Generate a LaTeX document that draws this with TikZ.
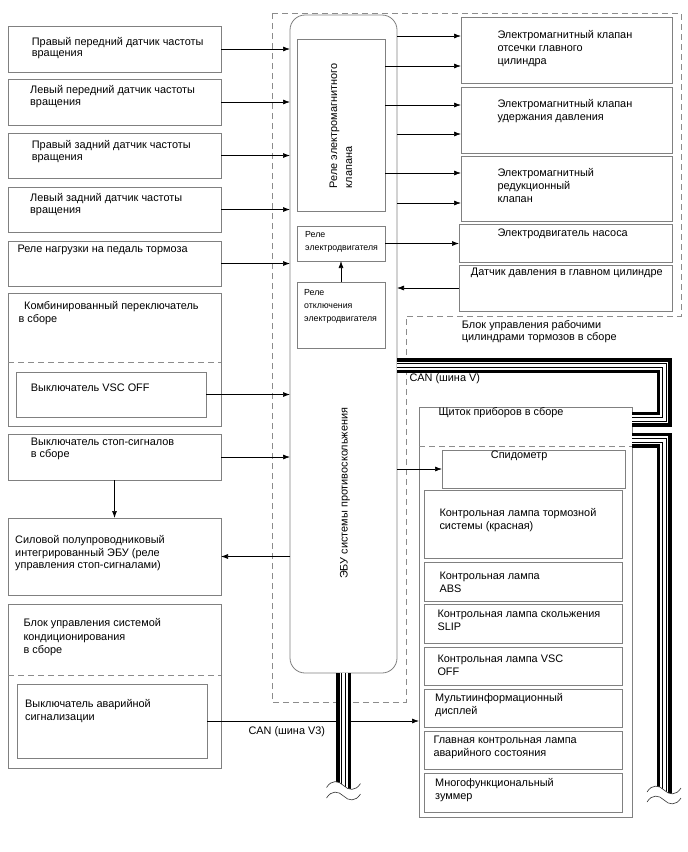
\documentclass[tikz,border=0pt]{standalone}
\usepackage{fontspec}
\setmainfont{Liberation Sans}
\usetikzlibrary{arrows.meta}
\definecolor{boxgray}{RGB}{128,128,128}
\definecolor{dashgray}{RGB}{140,140,140}
\newcommand\ftA{\fontsize{10.9}{13.3}\selectfont}
\newcommand\ftB{\fontsize{10.9}{11.7}\selectfont}
\newcommand\ftC{\fontsize{10.9}{12.7}\selectfont}
\newcommand\ftD{\fontsize{10.9}{15}\selectfont}
\newcommand\ftS{\fontsize{8.8}{12.8}\selectfont}
\newcommand\bx[6][]{\node[box,#1,minimum width={#5-#3},minimum height={#6-#4}] (#2) at ({(#3+#5)/2},{(#4+#6)/2}) {};}
\newcommand\drawbus[1]{\draw[line width=15pt] #1; \draw[white,line width=8pt] #1; \draw[line width=5pt] #1; \draw[white,line width=3pt] #1;}
\newcommand\wv[2]{({#1-17},{#2+2}) .. controls ({#1-12},{#2-6}) and ({#1-5},{#2-5}) .. ({#1},{#2}) .. controls ({#1+5},{#2+5}) and ({#1+12},{#2+6}) .. ({#1+17},{#2-2})}
\newcommand\busend[3]{\fill[white] \wv{#1}{#2} -- ({#1+17},{#2+9}) -- ({#1-17},{#2+9}) -- cycle; \draw[wave] \wv{#1}{#2}; \draw[wave] \wv{#1}{#3};}
\begin{document}
% text nodes: anchor = baseline of the LAST line
\begin{tikzpicture}[x=1pt,y=-1pt,
  box/.style={draw=boxgray,line width=0.8pt,inner sep=0pt,outer sep=0pt},
  dsh/.style={draw=dashgray,line width=0.8pt,dash pattern=on 6pt off 4pt},
  arr/.style={draw=black,line width=0.7pt,-{Latex[length=7pt,width=5pt]}},
  txt/.style={inner sep=0pt,anchor=base west,align=left,font=\ftA,text=black},
  wave/.style={draw=black!80,line width=0.6pt}]
\fill[white] (0,0) rectangle (688,852);
\useasboundingbox (0,0) rectangle (688,852);
% dashed assembly outline
\draw[dsh] (272,13) -- (681,13) -- (681,316) -- (406,316) -- (406,702) -- (272,702) -- cycle;
% left boxes
\bx{s1}{8}{26}{221}{72}
\bx{s2}{8}{79}{221}{125}
\bx{s3}{8}{133}{221}{178}
\bx{s4}{8}{187}{221}{232}
\bx{s5}{8}{241}{221}{286}
\bx{comb}{8}{293}{221}{426}
\bx{vsc}{16}{372}{206}{417}
\bx{stop}{8}{434}{221}{480}
\bx{pwr}{8}{518}{221}{595}
\bx{ac}{8}{604}{221}{768}
\bx{haz}{17}{684}{207}{758}
\draw[dsh] (comb.west |- 0,362) -- (comb.east |- 0,362);
\draw[dsh] (ac.west |- 0,675) -- (ac.east |- 0,675);
% ECU
\bx[rounded corners=15pt]{ecu}{290}{15}{397}{673}
\bx{rk}{297}{39}{385}{211}
\bx{rm}{297}{226}{385}{261}
\bx{ro}{297}{282}{385}{348}
% right boxes
\bx{va}{461}{17}{672}{83}
\bx{vb}{461}{87}{672}{153}
\bx{vc}{461}{156}{672}{221}
\bx{pm}{459}{224}{672}{262}
\bx{ps}{459}{265}{672}{311}
% cluster
\bx{cl}{419}{407}{632}{817}
\draw[dsh] (cl.west |- 0,446) -- (cl.east |- 0,446);
\bx{spd}{442}{450}{625}{488}
\bx{l1}{424}{490}{622}{558}
\bx{l2}{424}{562}{622}{601}
\bx{l3}{424}{604}{622}{643}
\bx{l4}{424}{647}{622}{685}
\bx{l5}{424}{689}{622}{727}
\bx{l6}{424}{731}{622}{769}
\bx{l7}{424}{773}{622}{812}
% texts
\node[txt,font=\ftB] (t1) at (31.7,56.7) {Правый передний датчик частоты\\вращения};
\node[txt,font=\ftB] (t2) at (30,105) {Левый передний датчик частоты\\вращения};
\node[txt,font=\ftB] (t3) at (31.7,160) {Правый задний датчик частоты\\вращения};
\node[txt,font=\ftB] (t4) at (30,213.4) {Левый задний датчик частоты\\вращения};
\node[txt] (t5) at (17.3,252.3) {Реле нагрузки на педаль тормоза};
\node[txt] (t6) at (18.3,322.6) {\hspace*{5.7pt}Комбинированный переключатель\\в сборе};
\node[txt] (t7) at (30.7,391.7) {Выключатель VSC OFF};
\node[txt,font=\ftB] (t8) at (30.7,457.4) {Выключатель стоп-сигналов\\в сборе};
\node[txt,font=\ftC] (t9) at (15,568.7) {Силовой полупроводниковый\\интегрированный ЭБУ (реле\\управления стоп-сигналами)};
\node[txt] (t10) at (23.3,653.3) {Блок управления системой\\кондиционирования\\в сборе};
\node[txt,font=\ftC] (t11) at (25,720) {Выключатель аварийной\\сигнализации};
\node[txt] (t12) at (248.3,734) {CAN (шина V3)};
\node[txt,font=\ftD,rotate=90] (t13) at (352,188.3) {Реле электромагнитного\\клапана};
\node[txt,font=\ftS] (t14) at (305,250.4) {Реле\\электродвигателя};
\node[txt,font=\ftS] (t15) at (304,321.2) {Реле\\отключения\\электродвигателя};
\node[inner sep=0pt,font=\ftA,rotate=90] (t16) at (345,493.3) {ЭБУ системы противоскольжения};
\node[txt] (t17) at (497.3,64.9) {Электромагнитный клапан\\отсечки главного\\цилиндра};
\node[txt] (t18) at (497.3,120.6) {Электромагнитный клапан\\удержания давления};
\node[txt] (t19) at (497.3,202.6) {Электромагнитный\\редукционный\\клапан};
\node[txt] (t20) at (497.3,236.7) {Электродвигатель насоса};
\node[txt] (t21) at (470.7,275.7) {Датчик давления в главном цилиндре};
\node[txt,font=\ftB] (t22) at (461.7,340) {Блок управления рабочими\\цилиндрами тормозов в сборе};
\node[txt] (t23) at (409.3,381.7) {CAN (шина V)};
\node[txt] (t24) at (438.3,415) {Щиток приборов в сборе};
\node[txt] (t25) at (490.7,458.3) {Спидометр};
\node[txt] (t26) at (439.3,529.3) {Контрольная лампа тормозной\\системы (красная)};
\node[txt] (t27) at (439.3,592.6) {Контрольная лампа\\ABS};
\node[txt,font=\ftC] (t28) at (437.3,630.4) {Контрольная лампа скольжения\\SLIP};
\node[txt] (t29) at (437.3,675.6) {Контрольная лампа VSC\\OFF};
\node[txt,font=\ftC] (t30) at (435,714.4) {Мультиинформационный\\дисплей};
\node[txt,font=\ftC] (t31) at (433.3,756) {Главная контрольная лампа\\аварийного состояния};
\node[txt] (t32) at (435,799.3) {Многофункциональный\\зуммер};
% arrows left
\foreach \n in {s1,s2,s3,s4,s5,vsc,stop} {\draw[arr] (\n.east) -- (\n.east -| ecu.west);}
\draw[arr] (pwr.east -| ecu.west) -- (pwr.east);
\draw[arr] (stop.south) -- (pwr.north);
\draw[arr] (ro.north) -- (rm.south);
% arrows right
\draw[arr] (ecu.east |- 0,36) -- (va.west |- 0,36);
\draw[arr] (rk.east |- 0,66) -- (va.west |- 0,66);
\draw[arr] (rk.east |- 0,105) -- (vb.west |- 0,105);
\draw[arr] (ecu.east |- 0,134) -- (vb.west |- 0,134);
\draw[arr] (rk.east |- 0,173) -- (vc.west |- 0,173);
\draw[arr] (ecu.east |- 0,203) -- (vc.west |- 0,203);
\draw[arr] (rm.east) -- (rm.east -| pm.west);
\draw[arr] (ps.west) -- (ps.west -| ecu.east);
\draw[arr] (spd.west -| ecu.east) -- (spd.west);
\draw[arr] (haz.east) -- (haz.east -| cl.west);
% CAN buses
\drawbus{(ecu.east |- 0,365.5) -- (664,365.5) -- (664,419) -- (cl.east |- 0,419)}
\drawbus{(cl.east |- 0,440) -- (664,440) -- (664,797)}
\drawbus{(ecu.south) -- (343.5,792)}
\busend{343.5}{785.5}{796}
\busend{664}{790}{800}
\end{tikzpicture}
\end{document}
